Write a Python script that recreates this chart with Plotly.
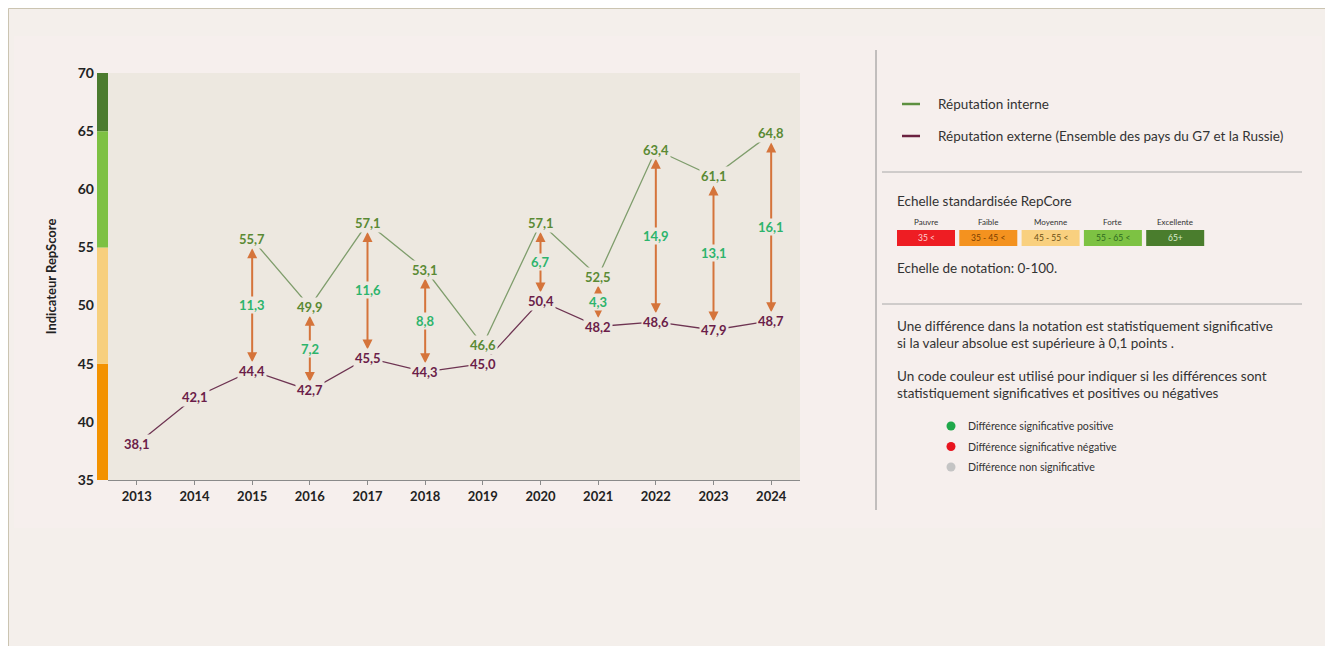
import plotly.graph_objects as go

years = [2013, 2014, 2015, 2016, 2017, 2018, 2019, 2020, 2021, 2022, 2023, 2024]
internal = [None, None, 55.7, 49.9, 57.1, 53.1, 46.6, 57.1, 52.5, 63.4, 61.1, 64.8]
external = [38.1, 42.1, 44.4, 42.7, 45.5, 44.3, 45.0, 50.4, 48.2, 48.6, 47.9, 48.7]
differences = [None, None, 11.3, 7.2, 11.6, 8.8, None, 6.7, 4.3, 14.9, 13.1, 16.1]

band_low = [35, 45, 55, 65]
band_high = [45, 55, 65, 70]
band_colors = ["#f39200", "#f7cf7d", "#7dc143", "#4b7b2e"]

scale_names = ["Pauvre", "Faible", "Moyenne", "Forte", "Excellente"]
scale_ranges = ["35 <", "35 - 45 <", "45 - 55 <", "55 - 65 <", "65+"]
scale_colors = ["#ee1d23", "#f4921f", "#f9d07f", "#7dc243", "#4a7d2d"]
scale_text = ["#ffd0d0", "#7a3e00", "#6b4f12", "#2f6a1f", "#dbeccd"]

sig_labels = ["Différence significative positive", "Différence significative négative",
              "Différence non significative"]
sig_colors = ["#1fa84a", "#e8141e", "#c4c4c4"]

FONT = "Lato, 'Open Sans', sans-serif"
PLOT_BG = "#ede8e0"
GREEN_LINE = "#7f9d6c"
GREEN_TXT = "#5a8a34"
RED_LINE = "#6e3452"
RED_TXT = "#6b1d49"
DIFF_TXT = "#2db46c"
ARROW = "#d5743b"

# plot area in page pixels; the page body adds an 8px offset
L, R, T, B = 108, 800, 73, 480
W, H = 1333, 646
OFF = 8


def px(x):
    return (x - L) / (R - L)


def py(y):
    return (B - y) / (B - T)


def fmt(v):
    return f"{v:.1f}".replace(".", ",")


fig = go.Figure()

fig.add_trace(go.Scatter(x=years, y=external, mode="lines",
                         line=dict(color=RED_LINE, width=1.3), hoverinfo="skip"))
fig.add_trace(go.Scatter(x=years, y=internal, mode="lines", connectgaps=False,
                         line=dict(color=GREEN_LINE, width=1.3), hoverinfo="skip"))

shapes = []
annotations = []

# page frame
shapes.append(dict(type="rect", xref="paper", yref="paper", x0=px(8.5), x1=px(1330), y0=py(700), y1=py(8.5),
                   line=dict(color="#cbc4b1", width=1), fillcolor="#f4efeb", layer="below"))
shapes.append(dict(type="rect", xref="paper", yref="paper", x0=px(14), x1=px(1322), y0=py(528), y1=py(36),
                   line=dict(width=0), fillcolor="#f6efed", layer="below"))
# plot background
shapes.append(dict(type="rect", xref="x domain", yref="y domain", x0=0, x1=1, y0=0, y1=1,
                   line=dict(width=0), fillcolor=PLOT_BG, layer="below"))

# colour band on the y axis
for lo, hi, c in zip(band_low, band_high, band_colors):
    shapes.append(dict(type="rect", xref="paper", yref="y", x0=px(97), x1=px(108), y0=lo, y1=hi,
                       line=dict(width=0), fillcolor=c, layer="above"))

# arrows between the two series
for x, a, b, d in zip(years, internal, external, differences):
    if d is None or a is None:
        continue
    annotations.append(dict(x=x, y=a, ax=x, ay=b, xref="x", yref="y", axref="x", ayref="y", text="",
                            showarrow=True, arrowhead=2, startarrowhead=2, arrowside="end+start",
                            arrowsize=1, arrowwidth=2, arrowcolor=ARROW, standoff=9, startstandoff=7))
    annotations.append(dict(x=x, y=(a + b) / 2, xref="x", yref="y", text=fmt(d), showarrow=False,
                            bgcolor=PLOT_BG, borderpad=0,
                            font=dict(family=FONT, size=13, color=DIFF_TXT, weight="bold")))

# value labels
for x, v in zip(years, external):
    annotations.append(dict(x=x, y=v, xref="x", yref="y", text=fmt(v), showarrow=False,
                            bgcolor=PLOT_BG, borderpad=1,
                            font=dict(family=FONT, size=13, color=RED_TXT, weight="bold")))
for x, v in zip(years, internal):
    if v is None:
        continue
    annotations.append(dict(x=x, y=v, xref="x", yref="y", text=fmt(v), showarrow=False,
                            bgcolor=PLOT_BG, borderpad=1,
                            font=dict(family=FONT, size=13, color=GREEN_TXT, weight="bold")))

# right panel separators
shapes.append(dict(type="line", xref="paper", yref="paper", x0=px(876), x1=px(876), y0=py(510), y1=py(50),
                   line=dict(color="#8c8c8c", width=1)))
for yy in (172, 304):
    shapes.append(dict(type="line", xref="paper", yref="paper", x0=px(882), x1=px(1302), y0=py(yy), y1=py(yy),
                       line=dict(color="#a8a8a8", width=1)))

TXT = dict(family=FONT, size=13.5, color="#333")

# legend
for yy, c, t in [(104, "#5d9040", "Réputation interne"),
                 (136, "#6b2140", "Réputation externe (Ensemble des pays du G7 et la Russie)")]:
    shapes.append(dict(type="line", xref="paper", yref="paper", x0=px(902), x1=px(920), y0=py(yy), y1=py(yy),
                       line=dict(color=c, width=2.5)))
    annotations.append(dict(x=px(936), y=py(yy), xref="paper", yref="paper", text=t, showarrow=False,
                            xanchor="left", yanchor="middle", font=TXT))

# scale legend
annotations.append(dict(x=px(895), y=py(201), xref="paper", yref="paper", text="Echelle standardisée RepCore",
                        showarrow=False, xanchor="left", yanchor="middle", font=TXT))
for i, (n, r, c, tc) in enumerate(zip(scale_names, scale_ranges, scale_colors, scale_text)):
    x0 = 897 + i * 62.3
    x1 = x0 + 58
    shapes.append(dict(type="rect", xref="paper", yref="paper", x0=px(x0), x1=px(x1), y0=py(246), y1=py(230),
                       line=dict(width=0), fillcolor=c))
    annotations.append(dict(x=px((x0 + x1) / 2), y=py(238), xref="paper", yref="paper", text=r,
                            xanchor="center", yanchor="middle", showarrow=False,
                            font=dict(family=FONT, size=8.5, color=tc)))
    annotations.append(dict(x=px((x0 + x1) / 2), y=py(222), xref="paper", yref="paper", text=n,
                            xanchor="center", yanchor="middle", showarrow=False,
                            font=dict(family=FONT, size=8, color="#333")))
annotations.append(dict(x=px(895), y=py(268), xref="paper", yref="paper", text="Echelle de notation: 0-100.",
                        showarrow=False, xanchor="left", yanchor="middle", font=TXT))

# notes
notes = [(326, "Une différence dans la notation est statistiquement significative"),
         (343, "si la valeur absolue est supérieure à 0,1 points ."),
         (376, "Un code couleur est utilisé pour indiquer si les différences sont"),
         (393, "statistiquement significatives et positives ou négatives")]
for yy, t in notes:
    annotations.append(dict(x=px(895), y=py(yy), xref="paper", yref="paper", text=t, showarrow=False,
                            xanchor="left", yanchor="middle", font=TXT))

for i, (t, c) in enumerate(zip(sig_labels, sig_colors)):
    yy = 426 + i * 20.5
    shapes.append(dict(type="circle", xref="paper", yref="paper", x0=px(946.5), x1=px(955.5),
                       y0=py(yy + 4.5), y1=py(yy - 4.5), line=dict(width=0), fillcolor=c))
    annotations.append(dict(x=px(966), y=py(yy), xref="paper", yref="paper", text=t, showarrow=False,
                            xanchor="left", yanchor="middle", font=dict(family=FONT, size=10.6, color="#333")))

# white strip right of the frame
shapes.append(dict(type="rect", xref="paper", yref="paper", x0=px(1330.5), x1=px(1345), y0=py(H + 10), y1=py(0),
                   line=dict(width=0), fillcolor="white", layer="below"))

fig.update_layout(
    width=W - OFF, height=H - OFF,
    margin=dict(l=L - OFF, r=W - R, t=T - OFF, b=H - B),
    paper_bgcolor="#f4efeb",
    plot_bgcolor="rgba(0,0,0,0)",
    showlegend=False,
    font=dict(family=FONT, color="#222"),
    shapes=shapes,
    annotations=annotations,
    xaxis=dict(range=[2012.5, 2024.5], tickvals=years, showline=True, linecolor="#8a8a8a", linewidth=1,
               ticks="outside", ticklen=4, tickcolor="#8a8a8a", showgrid=False, zeroline=False,
               tickfont=dict(family=FONT, size=13, color="#222", weight="bold")),
    yaxis=dict(range=[35, 70], dtick=5, showgrid=False, zeroline=False, showline=False, ticks="",
               ticklabelstandoff=13, tickfont=dict(family=FONT, size=14, color="#222", weight="bold"),
               title=dict(text="Indicateur RepScore", standoff=18,
                          font=dict(family=FONT, size=13, color="#222", weight="bold"))),
)

fig.write_html("out.html")
